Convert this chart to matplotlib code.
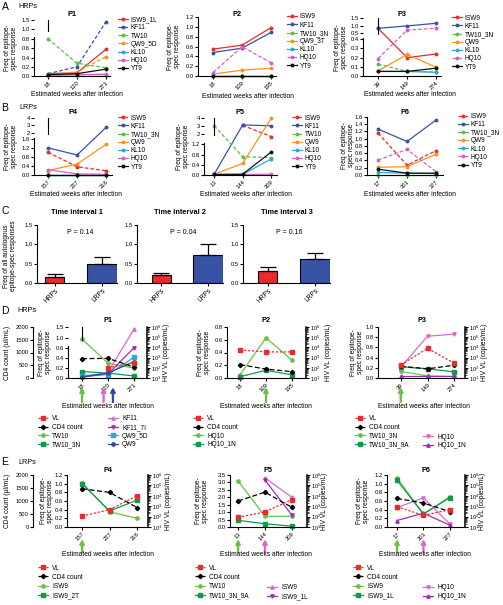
import numpy as np
import matplotlib
matplotlib.use("Agg")
import matplotlib.pyplot as plt
from matplotlib.spines import Spine
import matplotlib.ticker as mticker

W, H = 503, 605
plt.rcParams['font.family'] = ['Liberation Sans', 'DejaVu Sans']
plt.rcParams['mathtext.fontset'] = 'custom'
plt.rcParams['mathtext.rm'] = 'Liberation Sans'
plt.rcParams['mathtext.it'] = 'Liberation Sans:italic'
plt.rcParams['mathtext.bf'] = 'Liberation Sans:bold'
LW = 0.8
plt.rcParams['axes.linewidth'] = LW
for a in ('xtick', 'ytick'):
    plt.rcParams[a + '.major.width'] = LW
    plt.rcParams[a + '.major.size'] = 2
    plt.rcParams[a + '.major.pad'] = 1
    plt.rcParams[a + '.labelsize'] = 4.2

# ======================= DATA =======================
# Panels A/B: frequency of epitope-specific responses
P1_weeks = ['18', '120', '271']
P2_weeks = ['18', '109', '195']
P3_weeks = ['39', '149', '274']
P4_weeks = ['157', '227', '316']
P5_weeks = ['13', '144', '309']
P6_weeks = ['17', '301', '377']

A1_names = ['ISW9_1L', 'KF11', 'TW10', 'QW9_5D', 'KL10', 'HQ10', 'YT9']
A1_values = [[0.05, 0.07, 0.58], [0.05, 0.20, 1.40], [0.81, 0.28, 0.18],
             [0.03, 0.09, 0.42], [0.02, 0.03, 0.03], [0.02, 0.03, 0.04],
             [0.03, 0.05, 0.15]]
A2_names = ['ISW9', 'KF11', 'TW10_3N', 'QW9_3T', 'KL10', 'HQ10', 'YT9']
A2_values = [[0.55, 0.63, 0.99], [0.48, 0.57, 0.89], [0.0, 0.0, 0.0],
             [0.04, 0.12, 0.16], [0.0, 0.0, 0.0], [0.07, 0.60, 0.27],
             [0.01, 0.01, 0.01]]
A3_names = ['ISW9', 'KF11', 'TW10_3N', 'QW9', 'KL10', 'HQ10', 'YT9']
A3_values = [[0.82, 0.20, 0.24], [0.82, 0.98, 1.16], [0.13, 0.05, 0.045],
             [0.055, 0.235, 0.095], [0.05, 0.05, 0.04], [0.19, 0.70, 0.82],
             [0.05, 0.05, 0.085]]
B4_names = ['ISW9', 'KF11', 'TW10_3N', 'QW9', 'KL10', 'HQ10', 'YT9']
B4_values = [[1.02, 0.37, 0.19], [1.22, 0.90, 2.75], [0.0, 0.0, 0.0],
             [0.20, 0.49, 1.38], [0.01, 0.01, 0.01], [0.24, 0.05, 0.03],
             [0.01, 0.01, 0.01]]
B5_names = ['ISW9', 'KF11', 'TW10', 'QW9', 'KL10', 'HQ10', 'YT9']
B5_values = [[np.nan, 3.10, 1.80], [0.02, 3.15, 3.05], [3.05, 0.72, 0.68],
             [0.03, 0.45, 4.00], [0.02, 0.02, 0.63], [0.02, 0.02, 0.03],
             [0.02, 0.03, 0.90]]
B6_names = ['ISW9', 'KF11', 'TW10_3N', 'QW9', 'KL10', 'HQ10', 'YT9']
B6_values = [[1.15, 0.27, 0.67], [1.26, 0.92, 1.51], [0.0, 0.0, 0.0],
             [0.21, 0.23, 0.57], [0.07, 0.05, 0.04], [0.41, 0.70, 0.09],
             [0.16, 0.05, 0.05]]

# Panel C: bar charts
C_groups = ['HRPs', 'LRPs']
C_titles = ['Time interval 1', 'Time interval 2', 'Time interval 3']
C_pvalues = ['P = 0.14', 'P = 0.04', 'P = 0.16']
C_means = [[0.17, 0.49], [0.21, 0.73], [0.32, 0.62]]
C_errors = [[0.07, 0.19], [0.06, 0.28], [0.09, 0.17]]

# Panels D/E: VL, CD4 and epitope variants
D1_vl = [np.nan, 100, 320]
D1_cd4 = [760, 770, 430]
D1_names = ['TW10', 'TW10_3N', 'KF11', 'KF11_7I', 'QW9_5D', 'QW9']
D1_values = [[0.95, 0.30, 0.20], [0.13, 0.10, 0.04], [0.02, 0.12, 1.40],
             [0.02, 0.08, 0.62], [0.05, 0.07, 0.42], [0.02, 0.10, 0.33]]
D2_vl = [5600, 3600, 3600]
D2_cd4 = [525, 350, 250]
D2_names = ['HQ10', 'HQ10_1N']
D2_values = [[0.05, 0.63, 0.28], [0.02, 0.12, 0.05]]
D3_vl = [190, 8000, 280]
D3_cd4 = [460, 360, 500]
D3_names = ['TW10_3N', 'TW10_3N_9A', 'HQ10', 'HQ10_1N']
D3_values = [[0.13, 0.04, 0.03], [0.22, 0.18, 0.12], [0.21, 0.82, 0.86],
             [0.03, 0.03, 0.03]]
E4_vl = [110, 470, 10000]
E4_cd4 = [1470, 1330, 750]
E4_names = ['ISW9', 'ISW9_2T']
E4_values = [[1.02, 0.35, 0.20], [1.00, 0.37, 0.62]]
E5_vl = [86, 280, 4400]
E5_cd4 = [1000, 1340, 755]
E5_names = ['TW10', 'TW10_3N_9A', 'ISW9', 'ISW9_1L']
E5_values = [[3.10, 0.72, 0.72], [0.45, 0.22, 0.05], [np.nan, 3.30, 2.00],
             [np.nan, 3.15, 0.80]]
E6_vl = [900, 130, 470]
E6_cd4 = [1100, 920, 590]
E6_names = ['ISW9', 'ISW9_1L', 'HQ10', 'HQ10_1N']
E6_values = [[1.13, 0.30, 0.70], [1.08, 0.30, 0.68], [0.45, 0.67, 0.07],
             [0.15, 0.32, 0.04]]

# ======================= STYLE =======================
RED = '#EC2A2A'; BLUE = '#3853A4'; GREEN = '#5DBE4A'; ORANGE = '#F7931E'
CYAN = '#27A9E1'; MAGENTA = '#D163C6'; BLACK = '#111111'
AB_COLORS = [RED, BLUE, GREEN, ORANGE, CYAN, MAGENTA, BLACK]
LGREEN = '#6CC04A'; DGREEN = '#0E9A4E'; PINK = '#D86BCD'; PURPLE = '#9A2FB0'
LBLUE = '#2AA6E0'; DBLUE = '#2E4C9E'
DASH = (0, (3, 1.6))

fig = plt.figure(figsize=(W / 100, H / 100), dpi=100)


def rect(x0, x1, ytop, ybot):
    return [x0 / W, 1 - ybot / H, (x1 - x0) / W, (ybot - ytop) / H]


def ftext(x, y, s, **kw):
    kw.setdefault('ha', 'center')
    kw.setdefault('va', 'center')
    fig.text(x / W, 1 - y / H, s, **kw)


def pw(xs, ys):
    xs = np.asarray(xs, float); ys = np.asarray(ys, float)
    s0 = (ys[1] - ys[0]) / (xs[1] - xs[0])
    s1 = (ys[-1] - ys[-2]) / (xs[-1] - xs[-2])

    def f(v):
        v = np.asarray(v, float)
        out = np.interp(v, xs, ys)
        out = np.where(v < xs[0], ys[0] + (v - xs[0]) * s0, out)
        out = np.where(v > xs[-1], ys[-1] + (v - xs[-1]) * s1, out)
        return out
    return f


def setup_freq(ax, vbp, pbp, gap, ticks, tlabels):
    if gap is not None:
        pos = [pbp[0] - p for p in pbp]
        ax.set_yscale('function', functions=(pw(vbp, pos), pw(pos, vbp)))
    ax.set_ylim(vbp[0], vbp[-1])
    ax.set_yticks(ticks)
    ax.set_yticklabels(tlabels)
    if gap is not None:
        ax.spines['left'].set_bounds(vbp[0], gap[0])
        sp = Spine.linear_spine(ax, 'left')
        sp.set_linewidth(LW)
        sp.set_edgecolor('k')
        ax.spines['left_upper'] = sp
        sp.set_bounds(gap[1], vbp[-1])


def epi_panel(x0, x1, xlim, weeks, names, values, dashed, vbp, pbp, gap,
              ticks, tlabels, title, title_y, leg_x, ylab_x, xlab_x, xlab_y):
    ax = fig.add_axes(rect(x0, x1, pbp[-1], pbp[0]))
    setup_freq(ax, vbp, pbp, gap, ticks, tlabels)
    x = np.arange(len(weeks))
    lines = []
    for n, v, d, c in zip(names, values, dashed, AB_COLORS):
        ln, = ax.plot(x, v, color=c, ls=DASH if d else '-', lw=0.9,
                      marker='o', ms=1.8, label=n, clip_on=False)
        lines.append(ln)
    ax.spines['top'].set_visible(False)
    ax.spines['right'].set_visible(False)
    ax.set_xlim(*xlim)
    ax.set_xticks(x)
    ax.set_xticklabels(weeks, rotation=45, ha='right', rotation_mode='anchor')
    ftext((x0 + x1) / 2, title_y, title, fontsize=5.3, weight='bold')
    ftext(ylab_x, (pbp[0] + pbp[-1]) / 2, 'Freq of epitope-\nspec response',
          rotation=90, fontsize=4.8, linespacing=1.1)
    ftext(xlab_x, xlab_y, 'Estimated weeks after infection', fontsize=4.8)
    fig.legend(handles=lines, loc='upper left',
               bbox_to_anchor=(leg_x / W, 1 - (pbp[-1] - 3.8) / H),
               frameon=False, fontsize=4.7, handlelength=1.5,
               handletextpad=0.45, labelspacing=0.18, borderpad=0,
               borderaxespad=0)
    return ax


dashA1 = [0, 1, 1, 1, 0, 0, 0]
dashA2 = [0, 0, 0, 0, 0, 1, 0]
dashA3 = [0, 0, 1, 0, 0, 1, 0]
dashB4 = [1, 0, 0, 0, 0, 0, 0]
dashB5 = [1, 0, 1, 0, 0, 0, 0]
dashB6 = [1, 0, 0, 0, 0, 1, 0]

epi_panel(34, 110, (-0.48, 2.14), P1_weeks, A1_names, A1_values, dashA1,
          [0, 0.8, 1.0, 1.5], [76, 39.3, 29.3, 20], (0.84, 0.96),
          [0, 0.2, 0.4, 0.6, 0.8, 1.0, 1.5],
          ['0.0', '0.2', '0.4', '0.6', '0.8', '1.0', '1.5'],
          'P1', 14, 118, 11, 77, 95)
epi_panel(198, 276, (-0.52, 2.17), P2_weeks, A2_names, A2_values, dashA2,
          [0, 1.2], [76, 17.3], None,
          [0, 0.2, 0.4, 0.6, 0.8, 1.0, 1.2],
          ['0.0', '0.2', '0.4', '0.6', '0.8', '1.0', '1.2'],
          'P2', 14, 287, 174, 248, 96)
epi_panel(363, 441, (-0.52, 2.17), P3_weeks, A3_names, A3_values, dashA3,
          [0, 0.4, 0.5, 1.5], [76, 39.3, 33, 18.3], (0.42, 0.48),
          [0, 0.1, 0.2, 0.3, 0.4, 0.5, 1.0, 1.5],
          ['0.0', '0.1', '0.2', '0.3', '0.4', '0.5', '1.0', '1.5'],
          'P3', 14, 452, 341, 410, 95)
epi_panel(34, 112, (-0.48, 2.2), P4_weeks, B4_names, B4_values, dashB4,
          [0, 1.6, 2, 4], [175, 139.4, 132.7, 118.3], (1.66, 1.94),
          [0, 0.4, 0.8, 1.2, 1.6, 2, 3, 4],
          ['0.0', '0.4', '0.8', '1.2', '1.6', '2', '3', '4'],
          'P4', 113, 118, 11, 76, 195)
epi_panel(204, 277, (-0.35, 2.2), P5_weeks, B5_names, B5_values, dashB5,
          [0, 1.2, 2, 4], [175, 144.3, 134, 118.3], (1.3, 1.9),
          [0, 0.4, 0.8, 1.2, 2, 3, 4],
          ['0.0', '0.4', '0.8', '1.2', '2', '3', '4'],
          'P5', 113, 292, 183, 246, 195)
epi_panel(367, 443, (-0.38, 2.24), P6_weeks, B6_names, B6_values, dashB6,
          [0, 1.6], [175, 116.7], None,
          [0, 0.2, 0.4, 0.6, 0.8, 1.0, 1.2, 1.4, 1.6],
          ['0.0', '0.2', '0.4', '0.6', '0.8', '1.0', '1.2', '1.4', '1.6'],
          'P6', 113, 458, 348, 410, 195)

# ======================= Panel C =======================
C_layout = [(37, 117, (-0.376, 1.32)), (136.7, 222.7, (-0.52, 1.31)),
            (243.3, 330, (-0.52, 1.32))]
for (x0, x1, xl), means, errs, t, p in zip(C_layout, C_means, C_errors,
                                             C_titles, C_pvalues):
    ax = fig.add_axes(rect(x0, x1, 225, 283.3))
    ax.bar(np.arange(2), means, width=[0.41, 0.63], color=[RED, BLUE],
           edgecolor='k', linewidth=0.8,
           yerr=[np.zeros(2), errs], capsize=5.5,
           error_kw=dict(elinewidth=0.9, capthick=0.9, ecolor='k'))
    ax.set_ylim(0, 1.5)
    ax.set_xlim(*xl)
    ax.set_yticks([0, 0.5, 1.0, 1.5])
    ax.set_yticklabels(['0.0', '0.5', '1.0', '1.5'])
    ax.set_xticks(np.arange(2))
    ax.set_xticklabels(C_groups, rotation=45, ha='right',
                       rotation_mode='anchor', fontsize=4.8)
    ax.spines['top'].set_visible(False)
    ax.spines['right'].set_visible(False)
    ftext((x0 + x1) / 2, 213, t, fontsize=5.3, weight='bold')
    ftext((x0 + x1) / 2 + 3, 232, p, fontsize=5)
ftext(10, 256, 'Freq of all autologous\nepitope-spec responses',
      rotation=90, fontsize=4.8, linespacing=1.1)


# ======================= Panels D/E =======================
def vl_panel(x0, x1, ytop, ybot, xlim, weeks, vl, cd4, names, values,
             colors, markers, vbp, pbp, gap, ticks, tlabels, title, title_y,
             show_cd4, cd4_label, legends, pitch, arrows, arrow_y,
             ylab_x, vlab_x, xlab_x, xlab_y):
    ax = fig.add_axes(rect(x0, x1, ytop, ybot))
    setup_freq(ax, vbp, pbp, gap, ticks, tlabels)
    axc = ax.twinx()
    axv = ax.twinx()
    x = np.arange(len(weeks))
    epi = []
    for n, v, c, m in zip(names, values, colors, markers):
        ln, = ax.plot(x, v, color=c, lw=0.9, marker=m, ms=2.4, label=n,
                      clip_on=False)
        epi.append(ln)
    lc, = axc.plot(x, cd4, color='k', ls=(0, (4, 2)), lw=0.9, marker='D',
                   ms=2.2, label='CD4 count', clip_on=False)
    lv, = axv.plot(x, vl, color=RED, ls=(0, (1.8, 1.4)), lw=0.9, marker='s',
                   ms=2.2, label='VL', clip_on=False)
    ax.spines['top'].set_visible(False)
    ax.spines['right'].set_visible(False)
    ax.set_xlim(*xlim)
    ax.set_xticks(x)
    ax.set_xticklabels(weeks, rotation=45, ha='right', rotation_mode='anchor')
    axc.set_ylim(0, 2000)
    if show_cd4:
        for s in ('top', 'right', 'bottom'):
            axc.spines[s].set_visible(False)
        axc.yaxis.tick_left()
        axc.spines['left'].set_position(('outward', (x0 - 33) * 0.72))
        axc.set_yticks([0, 500, 1000, 1500, 2000])
        axc.set_yticklabels(['0', '500', '1000', '1500', '2000'])
        ftext(8, (ytop + ybot) / 2, cd4_label, rotation=90, fontsize=4.8)
    else:
        axc.set_axis_off()
    axv.set_yscale('log')
    axv.set_ylim(10, 1e6)
    axv.yaxis.set_major_locator(mticker.FixedLocator(
        [1e1, 1e2, 1e3, 1e4, 1e5, 1e6]))
    axv.yaxis.set_major_formatter(mticker.LogFormatterSciNotation())
    axv.yaxis.set_minor_locator(mticker.LogLocator(
        base=10, subs=np.arange(2, 10), numticks=20))
    axv.yaxis.set_minor_formatter(mticker.NullFormatter())
    for s in ('top', 'left', 'bottom'):
        axv.spines[s].set_visible(False)
    axv.spines['right'].set_linewidth(1.1)
    axv.tick_params(axis='y', which='minor', length=1.3, width=0.5)
    axv.tick_params(axis='y', which='major', labelsize=4.0, length=2.2)
    ftext((x0 + x1) / 2, title_y, title, fontsize=5.3, weight='bold')
    ftext(ylab_x, (ytop + ybot) / 2, 'Freq of epitope-\nspec response',
          rotation=90, fontsize=4.8, linespacing=1.1)
    ftext(vlab_x, (ytop + ybot) / 2, 'HIV VL (copies/mL)', rotation=90,
          fontsize=4.8)
    ftext(xlab_x, xlab_y, 'Estimated weeks after infection', fontsize=4.8)
    hh = [lv, lc] + epi
    for lx, ly, idx in legends:
        fig.legend(handles=[hh[i] for i in idx], loc='upper left',
                   bbox_to_anchor=(lx / W, 1 - (ly - 3.8) / H),
                   frameon=False, fontsize=4.7, handlelength=1.55,
                   handletextpad=0.6, labelspacing=pitch, borderpad=0,
                   borderaxespad=0)
    h = ybot - ytop
    for xa, c in arrows:
        ax.annotate('', xy=(xa, -(arrow_y[0] - ybot) / h),
                    xytext=(xa, -(arrow_y[1] - ybot) / h),
                    xycoords=('data', 'axes fraction'),
                    textcoords=('data', 'axes fraction'),
                    arrowprops=dict(arrowstyle='-|>', color=c, lw=1.7,
                                    mutation_scale=6, shrinkA=0, shrinkB=0),
                    annotation_clip=False)
    return ax


ftext(5, 7, 'A', fontsize=7.5)
ftext(28, 7, 'HRPs', fontsize=5.2)
ftext(5, 108, 'B', fontsize=7.5)
ftext(28, 108, 'LRPs', fontsize=5.2)
ftext(5, 211, 'C', fontsize=7.5)
ftext(5, 311, 'D', fontsize=7.5)
ftext(27, 311, 'HRPs', fontsize=5.2)
ftext(5, 462, 'E', fontsize=7.5)
ftext(27, 462, 'LRPs', fontsize=5.2)

DPITCH = 0.25
EPITCH = 0.33
rowD = 9.1
rowE = 9.7

vl_panel(68, 147, 327, 378, (-0.54, 2.5), P1_weeks, D1_vl, D1_cd4,
         D1_names, D1_values, [LGREEN, DGREEN, PINK, PURPLE, LBLUE, DBLUE],
         ['o', 's', '^', 'v', 's', 'o'],
         [0, 0.6, 1.0, 1.5], [378, 348.3, 337.7, 327], (0.68, 0.93),
         [0, 0.2, 0.4, 0.6, 1.0, 1.5],
         ['0.0', '0.2', '0.4', '0.6', '1.0', '1.5'], 'P1', 321,
         True, 'CD4 count (ul/mL)',
         [(38, 419.3, [0, 1, 2, 3]), (108, 419.3, [4, 5, 6, 7])], DPITCH,
         [(0, LGREEN), (0.83, PINK), (1.19, DBLUE)], (387, 402),
         45, 166, 108, 407)
vl_panel(227, 306, 327, 378, (-0.5, 2.54), P2_weeks, D2_vl, D2_cd4,
         D2_names, D2_values, [LGREEN, DGREEN], ['o', 's'],
         [0, 0.8], [378, 327], None, [0, 0.2, 0.4, 0.6, 0.8],
         ['0.0', '0.2', '0.4', '0.6', '0.8'], 'P2', 321,
         False, '', [(193, 419.3, [0, 1, 2, 3])], DPITCH,
         [(1, LGREEN)], (387, 402), 204, 328, 266, 407)
vl_panel(378, 465, 327, 378, (-0.85, 2.4), P3_weeks, D3_vl, D3_cd4,
         D3_names, D3_values, [LGREEN, DGREEN, PINK, PURPLE],
         ['o', 's', 'v', '^'],
         [0, 1.0], [378, 327], None, [0, 0.2, 0.4, 0.6, 0.8, 1.0],
         ['0.0', '0.2', '0.4', '0.6', '0.8', '1.0'], 'P3', 321,
         False, '', [(355, 419.3, [0, 1, 2, 3]),
                     (423, 419.3 + 2 * rowD, [4, 5])], DPITCH,
         [(0, LGREEN)], (387, 402), 357, 485, 424, 407)
vl_panel(67, 148, 475, 527, (-0.55, 2.4), P4_weeks, E4_vl, E4_cd4,
         E4_names, E4_values, [LGREEN, DGREEN], ['o', 's'],
         [0, 1.2], [527, 475], None, [0, 0.2, 0.4, 0.6, 0.8, 1.0, 1.2],
         ['0.0', '0.2', '0.4', '0.6', '0.8', '1.0', '1.2'], 'P4', 470,
         True, 'CD4 count (µl/mL)', [(38, 568.3, [0, 1, 2, 3])], EPITCH,
         [(0, LGREEN)], (539, 552), 47, 168, 108, 555)
vl_panel(230, 307, 475, 527, (-0.3, 2.56), P5_weeks, E5_vl, E5_cd4,
         E5_names, E5_values, [LGREEN, DGREEN, PINK, PURPLE],
         ['o', 's', '^', 'v'],
         [0, 3.5], [527, 475], None, [0, 0.5, 1.0, 1.5, 2.0, 2.5, 3.0, 3.5],
         ['0.0', '0.5', '1.0', '1.5', '2.0', '2.5', '3.0', '3.5'], 'P5', 470,
         False, '', [(195, 568.3, [0, 1, 2, 3]),
                     (267, 568.3 + 2 * rowE, [4, 5])], EPITCH,
         [(0, LGREEN), (1, PINK)], (539, 552), 202, 325, 266, 555)
vl_panel(387, 465, 475, 527, (-0.38, 2.57), P6_weeks, E6_vl, E6_cd4,
         E6_names, E6_values, [LGREEN, DGREEN, PINK, PURPLE],
         ['o', 's', 'v', '^'],
         [0, 1.2], [527, 475], None, [0, 0.2, 0.4, 0.6, 0.8, 1.0, 1.2],
         ['0.0', '0.2', '0.4', '0.6', '0.8', '1.0', '1.2'], 'P6', 470,
         False, '', [(353, 568.3, [0, 1, 2, 3]),
                     (423, 568.3 + 2 * rowE, [4, 5])], EPITCH,
         [(0, LGREEN), (1, PINK)], (539, 552), 363, 483, 425, 555)

fig.savefig('out.png', dpi=100)
